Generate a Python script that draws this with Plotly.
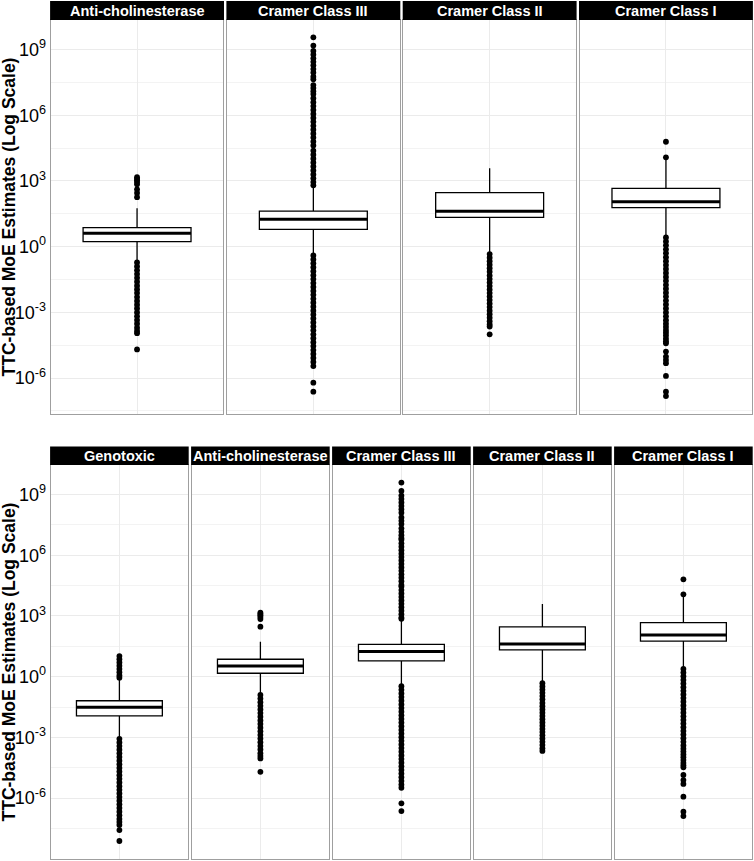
import plotly.graph_objects as go

# facet labels
top_groups = ["Anti-cholinesterase", "Cramer Class III", "Cramer Class II", "Cramer Class I"]
bottom_groups = ["Genotoxic", "Anti-cholinesterase", "Cramer Class III", "Cramer Class II", "Cramer Class I"]

# box statistics, log10(MoE)
top_q1 = [0.23, 0.79, 1.34, 1.78]
top_median = [0.61, 1.25, 1.62, 2.05]
top_q3 = [0.87, 1.62, 2.47, 2.66]
top_lower = [-0.66, -0.36, -0.28, 0.50]
top_upper = [1.75, 2.76, 3.58, 3.98]

bottom_q1 = [-1.94, 0.17, 0.78, 1.32, 1.76]
bottom_median = [-1.51, 0.53, 1.24, 1.62, 2.06]
bottom_q3 = [-1.19, 0.86, 1.60, 2.46, 2.67]
bottom_lower = [-3.00, -0.84, -0.41, -0.28, 0.46]
bottom_upper = [-0.10, 1.73, 2.82, 3.59, 4.00]

# outliers, log10(MoE)
top_outliers = [
    [3.17, 3.1, 3.03, 2.95, 2.85, 2.62, 2.45, 2.26,
     -0.72, -0.9, -1.08, -1.25, -1.42, -1.6, -1.78, -1.95, -2.12, -2.3, -2.48, -2.65,
     -2.82, -3.0, -3.18, -3.35, -3.52, -3.7, -3.85, -3.95, -4.69],
    [9.56, 9.18, 8.94, 8.77, 8.6, 8.44, 8.28, 8.11, 7.95, 7.76, 7.64, 7.38, 7.24, 7.1,
     6.97, 6.78, 6.6, 6.42, 6.24, 6.06, 5.88, 5.7, 5.52, 5.34, 5.16, 4.98, 4.8, 4.62,
     4.38, 4.2, 4.02, 3.84, 3.66, 3.48, 3.3, 3.12, 2.95, 2.8,
     -0.4, -0.58, -0.76, -0.94, -1.12, -1.3, -1.48, -1.66, -1.84, -2.02, -2.2, -2.38,
     -2.56, -2.74, -2.92, -3.1, -3.28, -3.46, -3.64, -3.82, -4.0, -4.18, -4.36, -4.54,
     -4.72, -4.9, -5.08, -5.26, -5.45, -6.21, -6.62],
    [-0.34, -0.5, -0.66, -0.82, -0.98, -1.14, -1.32, -1.48, -1.64, -1.8, -1.96, -2.12,
     -2.28, -2.44, -2.6, -2.76, -2.92, -3.08, -3.24, -3.4, -3.55, -3.65, -4.0],
    [4.79, 4.08,
     0.42, 0.24, 0.06, -0.12, -0.3, -0.48, -0.66, -0.84, -1.02, -1.2, -1.38, -1.56,
     -1.74, -1.92, -2.1, -2.28, -2.46, -2.64, -2.82, -3.0, -3.18, -3.36, -3.52, -3.66,
     -3.8, -3.93, -4.06, -4.2, -4.32, -4.41, -4.79, -5.02, -5.17, -5.32, -5.9, -6.62, -6.82],
]
bottom_outliers = [
    [1.02, 0.86, 0.7, 0.54, 0.38, 0.22, 0.06, -0.05,
     -3.07, -3.25, -3.43, -3.61, -3.79, -3.97, -4.15, -4.33, -4.51, -4.69, -4.87, -5.05,
     -5.23, -5.41, -5.59, -5.77, -5.95, -6.13, -6.31, -6.49, -6.67, -6.85, -7.03, -7.18,
     -7.33, -7.58, -8.12],
    [3.16, 3.1, 3.03, 2.95, 2.85, 2.47,
     -0.9, -1.08, -1.26, -1.44, -1.62, -1.8, -1.98, -2.16, -2.34, -2.52, -2.7, -2.88,
     -3.06, -3.24, -3.42, -3.6, -3.78, -3.92, -4.04, -4.7],
    [9.59, 9.18, 8.95, 8.78, 8.61, 8.44, 8.27, 8.1, 7.87, 7.7, 7.54, 7.33, 7.16, 6.99,
     6.84, 6.76, 6.59, 6.42, 6.25, 6.08, 5.91, 5.74, 5.57, 5.4, 5.23, 5.06, 4.89, 4.72,
     4.53, 4.45, 4.28, 4.11, 3.94, 3.77, 3.6, 3.43, 3.26, 3.09, 2.92, 2.86,
     -0.47, -0.65, -0.83, -1.01, -1.19, -1.37, -1.55, -1.73, -1.91, -2.09, -2.27, -2.45,
     -2.63, -2.81, -2.99, -3.17, -3.35, -3.53, -3.71, -3.89, -4.07, -4.25, -4.43, -4.61,
     -4.79, -4.97, -5.15, -5.33, -5.49, -6.26, -6.64],
    [-0.32, -0.48, -0.64, -0.8, -0.96, -1.12, -1.3, -1.46, -1.62, -1.78, -1.94, -2.1,
     -2.26, -2.42, -2.58, -2.74, -2.9, -3.06, -3.22, -3.38, -3.54, -3.67],
    [4.81, 4.07,
     0.38, 0.2, 0.02, -0.16, -0.34, -0.52, -0.7, -0.88, -1.06, -1.24, -1.42, -1.6,
     -1.78, -1.96, -2.14, -2.32, -2.5, -2.68, -2.86, -3.04, -3.22, -3.4, -3.56, -3.7,
     -3.84, -3.98, -4.12, -4.26, -4.38, -4.48, -4.86, -5.11, -5.3, -5.93, -6.67, -6.89],
]

tick_exp = [-6, -3, 0, 3, 6, 9]
minor_exp = [-7.5, -4.5, -1.5, 1.5, 4.5, 7.5]

W, H = 754, 861
FONT = "Liberation Sans, Arial, sans-serif"
BOX_W = 0.75

rows = [
    dict(groups=top_groups, q1=top_q1, med=top_median, q3=top_q3, lo=top_lower, hi=top_upper,
         out=top_outliers, strip_top=1, plot_top=20, plot_bottom=414, panel_w=172.7,
         yrange=[-7.64, 10.35]),
    dict(groups=bottom_groups, q1=bottom_q1, med=bottom_median, q3=bottom_q3, lo=bottom_lower,
         hi=bottom_upper, out=bottom_outliers, strip_top=446.5, plot_top=465, plot_bottom=859,
         panel_w=137.4, yrange=[-9.01, 10.46]),
]
LEFT, GAP = 50.7, 3.6

fig = go.Figure()
shapes, annotations = [], []
n = 0
for row in rows:
    for k, g in enumerate(row["groups"]):
        n += 1
        xa = "x" if n == 1 else "x%d" % n
        ya = "y" if n == 1 else "y%d" % n
        x0 = LEFT + k * (row["panel_w"] + GAP)
        x1 = x0 + row["panel_w"]

        fig.add_trace(go.Box(
            x=[0], q1=[10 ** row["q1"][k]], median=[10 ** row["med"][k]],
            q3=[10 ** row["q3"][k]], lowerfence=[10 ** row["lo"][k]],
            upperfence=[10 ** row["hi"][k]], width=BOX_W, whiskerwidth=0,
            fillcolor="white", line=dict(color="black", width=1.3),
            boxpoints=False, xaxis=xa, yaxis=ya, showlegend=False))
        fig.add_trace(go.Scatter(
            x=[-BOX_W / 2, BOX_W / 2], y=[10 ** row["med"][k]] * 2, mode="lines",
            line=dict(color="black", width=3), xaxis=xa, yaxis=ya, showlegend=False))
        pts = row["out"][k]
        fig.add_trace(go.Scatter(
            x=[0] * len(pts), y=[10 ** v for v in pts], mode="markers",
            marker=dict(color="black", size=5.8), xaxis=xa, yaxis=ya, showlegend=False))

        lay_x = "xaxis" if n == 1 else "xaxis%d" % n
        lay_y = "yaxis" if n == 1 else "yaxis%d" % n
        fig.layout[lay_x] = dict(
            domain=[x0 / W, x1 / W], anchor=ya, range=[-0.6, 0.6],
            tickvals=[0], showticklabels=False, showgrid=True, gridcolor="#ebebeb",
            gridwidth=1, zeroline=False, showline=True, mirror=True,
            linecolor="#9f9f9f", linewidth=1.2, ticks="")
        fig.layout[lay_y] = dict(
            domain=[1 - row["plot_bottom"] / H, 1 - row["plot_top"] / H], anchor=xa,
            type="log", range=row["yrange"],
            tickvals=[10 ** e for e in tick_exp],
            ticktext=["10<sup>%d</sup>" % e for e in tick_exp],
            showticklabels=(k == 0), tickfont=dict(family=FONT, size=18, color="black"),
            showgrid=True, gridcolor="#ebebeb", gridwidth=1, zeroline=False,
            showline=True, mirror=True, linecolor="#9f9f9f", linewidth=1.2, ticks="",
            minor=dict(tickvals=[10 ** e for e in minor_exp], showgrid=True,
                       gridcolor="#f3f3f3", gridwidth=0.8))

        # facet strip
        shapes.append(dict(type="rect", xref="paper", yref="paper",
                           x0=x0 / W - 0.0008, x1=x1 / W + 0.0008,
                           y0=1 - row["plot_top"] / H, y1=1 - row["strip_top"] / H,
                           fillcolor="black", line=dict(width=0), layer="above"))
        annotations.append(dict(
            text="<b>%s</b>" % g, xref="paper", yref="paper",
            x=(x0 + x1) / 2 / W, y=1 - (row["plot_top"] + row["strip_top"]) / 2 / H,
            showarrow=False, xanchor="center", yanchor="middle",
            font=dict(family=FONT, size=14.5, color="white")))

    annotations.append(dict(
        text="<b>TTC-based MoE Estimates (Log Scale)</b>", xref="paper", yref="paper",
        x=8.5 / W, y=1 - (row["plot_top"] + row["plot_bottom"]) / 2 / H, textangle=-90,
        showarrow=False, xanchor="center", yanchor="middle",
        font=dict(family=FONT, size=17.5, color="black")))

fig.update_layout(
    width=W, height=H, margin=dict(l=0, r=0, t=0, b=0),
    paper_bgcolor="white", plot_bgcolor="white", boxmode="overlay",
    shapes=shapes, annotations=annotations, font=dict(family=FONT))

# drop the browser's default page margin so the figure sits at the window origin
fig.write_html("out.html", config={"displayModeBar": False},
               post_script="document.body.style.margin='0';")
